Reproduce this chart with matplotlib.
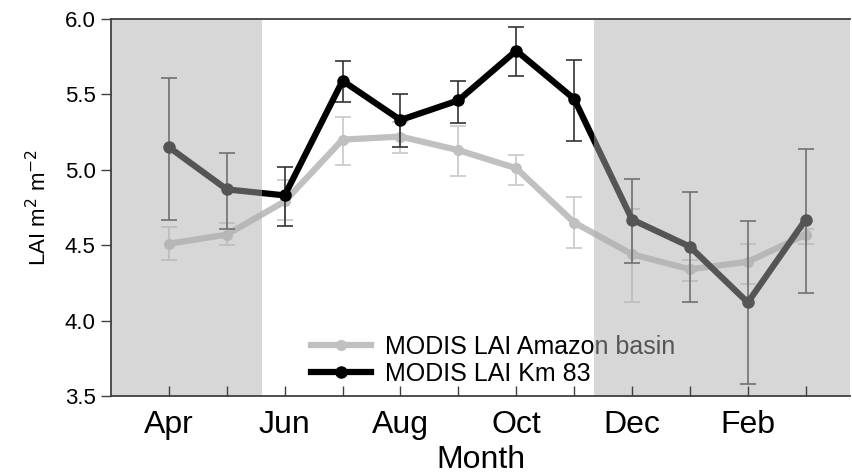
import matplotlib
matplotlib.use('Agg')
import matplotlib.pyplot as plt

plt.rcParams['font.family'] = ['Liberation Sans', 'DejaVu Sans']

months = ['Apr', 'May', 'Jun', 'Jul', 'Aug', 'Sep', 'Oct', 'Nov', 'Dec', 'Jan', 'Feb', 'Mar']

# Amazon basin mean LAI and error bar limits
basin = [4.51, 4.57, 4.79, 5.20, 5.22, 5.13, 5.01, 4.65, 4.44, 4.34, 4.39, 4.57]
basin_lo = [4.40, 4.50, 4.67, 5.03, 5.11, 4.96, 4.90, 4.48, 4.12, 4.26, 4.24, 4.51]
basin_hi = [4.62, 4.65, 4.93, 5.35, 5.32, 5.29, 5.10, 4.82, 4.74, 4.40, 4.51, 4.61]

# Km 83 site LAI and error bar limits
km83 = [5.15, 4.87, 4.83, 5.59, 5.33, 5.46, 5.79, 5.47, 4.67, 4.49, 4.12, 4.67]
km83_lo = [4.67, 4.61, 4.63, 5.45, 5.15, 5.31, 5.62, 5.19, 4.38, 4.12, 3.58, 4.18]
km83_hi = [5.61, 5.11, 5.02, 5.72, 5.50, 5.59, 5.95, 5.73, 4.94, 4.85, 4.66, 5.14]

x = list(range(len(months)))

fig = plt.figure(figsize=(8.52, 4.74), dpi=100)
ax = fig.add_axes([0.1303, 0.1646, 0.8677, 0.7954])

yerr_b = [[m - lo for m, lo in zip(basin, basin_lo)], [hi - m for m, hi in zip(basin, basin_hi)]]
yerr_k = [[m - lo for m, lo in zip(km83, km83_lo)], [hi - m for m, hi in zip(km83, km83_hi)]]

ax.errorbar(x, basin, yerr=yerr_b, fmt='none', ecolor='#c8c8c8', elinewidth=1.2,
            capsize=6, capthick=1.2, zorder=2)
ax.plot(x, basin, color='#c0c0c0', lw=4.5, marker='o', ms=7, zorder=2.2,
        label='MODIS LAI Amazon basin')
ax.errorbar(x, km83, yerr=yerr_k, fmt='none', ecolor='#333333', elinewidth=1.2,
            capsize=6, capthick=1.2, zorder=3)
ax.plot(x, km83, color='black', lw=4.5, marker='o', ms=8, zorder=3.2,
        label='MODIS LAI Km 83')

leg = ax.legend(loc='lower left', bbox_to_anchor=(0.25, -0.012), frameon=False,
                fontsize=18, handlelength=2.4, handletextpad=0.55,
                labelspacing=0.1, borderaxespad=0.2)
leg.set_zorder(4)

# dry-season shading laid over the data
ax.axvspan(-1, 1.6, color='#afafaf', alpha=0.49, lw=0, zorder=5)
ax.axvspan(7.35, 12, color='#afafaf', alpha=0.49, lw=0, zorder=5)

ax.set_xlim(-1, 11.77)
ax.set_ylim(3.5, 6.0)
ax.set_xticks(x)
ax.set_xticklabels([m if i % 2 == 0 else '' for i, m in enumerate(months)], fontsize=23)
ax.set_yticks([3.5, 4.0, 4.5, 5.0, 5.5, 6.0])
ax.set_yticklabels(['3.5', '4.0', '4.5', '5.0', '5.5', '6.0'], fontsize=16)
ax.tick_params(axis='x', direction='in', length=7, width=1, color='#404040', pad=10)
ax.tick_params(axis='y', direction='out', length=7, width=1, color='#404040', pad=4)
ax.xaxis.set_zorder(10)
ax.yaxis.set_zorder(10)

for side in ['left', 'bottom', 'top']:
    ax.spines[side].set_color('#404040')
    ax.spines[side].set_linewidth(1.3)
    ax.spines[side].set_zorder(10)
ax.spines['right'].set_visible(False)

ax.set_xlabel('Month', fontsize=23, labelpad=4)
ax.set_ylabel('LAI m$^2$ m$^{-2}$', fontsize=16, labelpad=10)

fig.savefig('out.png', dpi=100)
